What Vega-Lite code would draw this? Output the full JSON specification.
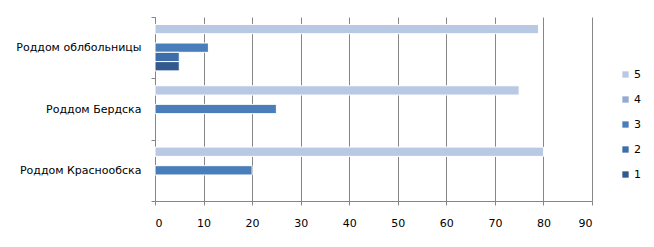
{
  "$schema": "https://vega.github.io/schema/vega-lite/v6.json",
  "autosize": "none",
  "width": 437,
  "height": 184,
  "padding": {"left": 155, "top": 17, "right": 62, "bottom": 46},
  "background": "white",
  "config": {
    "font": "DejaVu Sans",
    "view": {"stroke": null},
    "axis": {"labelFont": "DejaVu Sans", "labelFontSize": 11, "labelColor": "#000000", "domainColor": "#868686", "tickColor": "#868686"}
  },
  "data": {
    "values": [
      {"hospital": "Роддом облбольницы", "series": "5", "value": 79},
      {"hospital": "Роддом облбольницы", "series": "4", "value": 0},
      {"hospital": "Роддом облбольницы", "series": "3", "value": 11},
      {"hospital": "Роддом облбольницы", "series": "2", "value": 5},
      {"hospital": "Роддом облбольницы", "series": "1", "value": 5},
      {"hospital": "Роддом Бердска", "series": "5", "value": 75},
      {"hospital": "Роддом Бердска", "series": "4", "value": 0},
      {"hospital": "Роддом Бердска", "series": "3", "value": 25},
      {"hospital": "Роддом Бердска", "series": "2", "value": 0},
      {"hospital": "Роддом Бердска", "series": "1", "value": 0},
      {"hospital": "Роддом Краснообска", "series": "5", "value": 80},
      {"hospital": "Роддом Краснообска", "series": "4", "value": 0},
      {"hospital": "Роддом Краснообска", "series": "3", "value": 20},
      {"hospital": "Роддом Краснообска", "series": "2", "value": 0},
      {"hospital": "Роддом Краснообска", "series": "1", "value": 0}
    ]
  },
  "mark": {"type": "bar", "stroke": "white", "strokeWidth": 1},
  "encoding": {
    "y": {
      "field": "hospital",
      "type": "nominal",
      "sort": ["Роддом облбольницы", "Роддом Бердска", "Роддом Краснообска"],
      "scale": {"paddingInner": 0, "paddingOuter": 0},
      "axis": {"title": null, "domain": true, "ticks": true, "tickBand": "extent", "tickSize": 4, "labelPadding": 10, "grid": false}
    },
    "yOffset": {
      "field": "series",
      "type": "nominal",
      "sort": ["5", "4", "3", "2", "1"],
      "scale": {"paddingInner": 0, "paddingOuter": 0.8}
    },
    "x": {
      "field": "value",
      "type": "quantitative",
      "scale": {"domain": [0, 90], "nice": false},
      "axis": {
        "title": null,
        "values": [0, 10, 20, 30, 40, 50, 60, 70, 80, 90],
        "grid": true,
        "gridColor": "#868686",
        "gridOpacity": 1,
        "tickSize": 4,
        "labelPadding": 12
      }
    },
    "strokeOpacity": {
      "condition": {"test": "datum.value > 0", "value": 1},
      "value": 0
    },
    "color": {
      "field": "series",
      "type": "nominal",
      "sort": ["5", "4", "3", "2", "1"],
      "scale": {"domain": ["5", "4", "3", "2", "1"], "range": ["#B9C9E3", "#95AAD3", "#4A7EBB", "#3E6DAA", "#325A8E"]},
      "legend": {
        "title": null,
        "orient": "none",
        "legendX": 465,
        "legendY": 52,
        "symbolType": "square",
        "symbolSize": 40,
        "symbolStrokeWidth": 0,
        "labelFontSize": 11,
        "labelFont": "DejaVu Sans",
        "labelColor": "#000000",
        "rowPadding": 13,
        "labelOffset": 3
      }
    }
  }
}
